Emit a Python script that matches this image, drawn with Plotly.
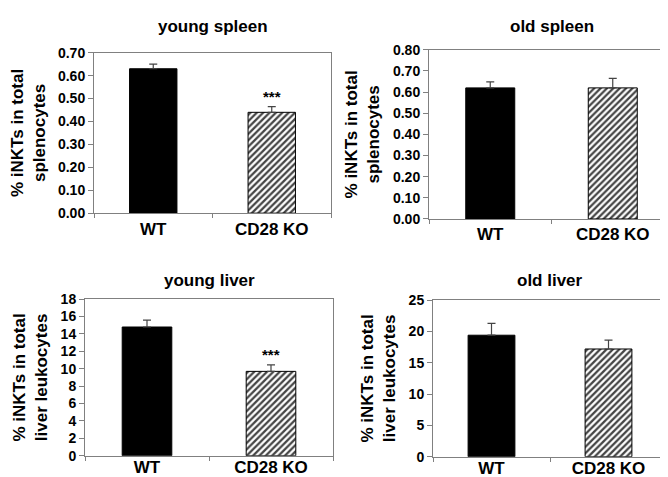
import plotly.graph_objects as go

categories = ["WT", "CD28 KO"]
titles = ["young spleen", "old spleen", "young liver", "old liver"]
young_spleen = [0.63, 0.44]
young_spleen_err = [0.02, 0.025]
old_spleen = [0.62, 0.62]
old_spleen_err = [0.028, 0.045]
young_liver = [14.8, 9.7]
young_liver_err = [0.8, 0.75]
old_liver = [19.4, 17.2]
old_liver_err = [1.9, 1.4]
y_ranges = [[0, 0.70], [0, 0.80], [0, 18], [0, 25]]
y_dticks = [0.10, 0.10, 2, 5]
y_formats = [".2f", ".2f", "d", "d"]
y_titles = ["% iNKTs in total<br>splenocytes", "% iNKTs in total<br>splenocytes",
            "% iNKTs in total<br>liver leukocytes", "% iNKTs in total<br>liver leukocytes"]
signif = ["***", "", "***", ""]

values = [young_spleen, old_spleen, young_liver, old_liver]
errors = [young_spleen_err, old_spleen_err, young_liver_err, old_liver_err]

W, H = 668, 477
# pixel boxes: left, right, top, bottom
boxes = [(86, 323, 38, 204), (421, 666, 35, 210), (77, 325, 293, 455), (425, 659, 294, 456)]
title_y = [11, 11, 274, 274]
label_standoff = [0, 0, -4, -4]

FONT = "Liberation Sans, Arial, sans-serif"
fig = go.Figure()
layout = dict(width=W, height=H, margin=dict(l=0, r=0, t=0, b=0),
              paper_bgcolor="white", plot_bgcolor="white", showlegend=False,
              font=dict(family=FONT, color="black"))
annotations = []
for i in range(4):
    xa = "x" if i == 0 else f"x{i+1}"
    ya = "y" if i == 0 else f"y{i+1}"
    fig.add_trace(go.Bar(
        x=categories, y=values[i], xaxis=xa, yaxis=ya, width=0.4,
        marker=dict(color=["black", "white"],
                    line=dict(color="black", width=1),
                    pattern=dict(shape=["", "/"], fgcolor="black", bgcolor="white",
                                 fgopacity=1, size=4.5, solidity=0.5)),
        error_y=dict(type="data", symmetric=False, array=errors[i], arrayminus=[0, 0],
                     visible=True, color="#444444", thickness=1.2, width=4),
    ))
    l, r, t, b = boxes[i]
    xdom = [l / W, r / W]
    ydom = [1 - b / H, 1 - t / H]
    xkey = "xaxis" if i == 0 else f"xaxis{i+1}"
    ykey = "yaxis" if i == 0 else f"yaxis{i+1}"
    layout[xkey] = dict(domain=xdom, anchor=ya, type="category", range=[-0.5, 1.5],
                        tickson="boundaries", ticks="outside", ticklen=4,
                        tickcolor="#808080", showline=True, linecolor="#808080",
                        linewidth=1, mirror=True, showgrid=False,
                        ticklabelstandoff=label_standoff[i],
                        tickfont=dict(family=FONT, size=17, color="black", weight="bold"))
    layout[ykey] = dict(domain=ydom, anchor=xa, range=y_ranges[i], dtick=y_dticks[i],
                        tickformat=y_formats[i], ticks="outside", ticklen=5,
                        tickcolor="#808080", showline=True, linecolor="#808080",
                        linewidth=1, mirror=True, showgrid=False, zeroline=False,
                        tickfont=dict(family=FONT, size=14, color="black", weight="bold"),
                        title=dict(text=y_titles[i], standoff=8,
                                   font=dict(family=FONT, size=17, color="black", weight="bold")))
    annotations.append(dict(text=titles[i], xref="paper", yref="paper",
                            x=(l + r) / 2 / W, y=1 - title_y[i] / H, xanchor="center",
                            yanchor="middle", showarrow=False,
                            font=dict(family=FONT, size=17, color="black", weight="bold")))
    if signif[i]:
        annotations.append(dict(text=signif[i], xref=xa, yref=ya, x=categories[1],
                                y=values[i][1] + errors[i][1], yanchor="bottom",
                                yshift=0, showarrow=False,
                                font=dict(family=FONT, size=15, color="black", weight="bold")))
layout["annotations"] = annotations
fig.update_layout(**layout)
fig.write_html("out.html")
